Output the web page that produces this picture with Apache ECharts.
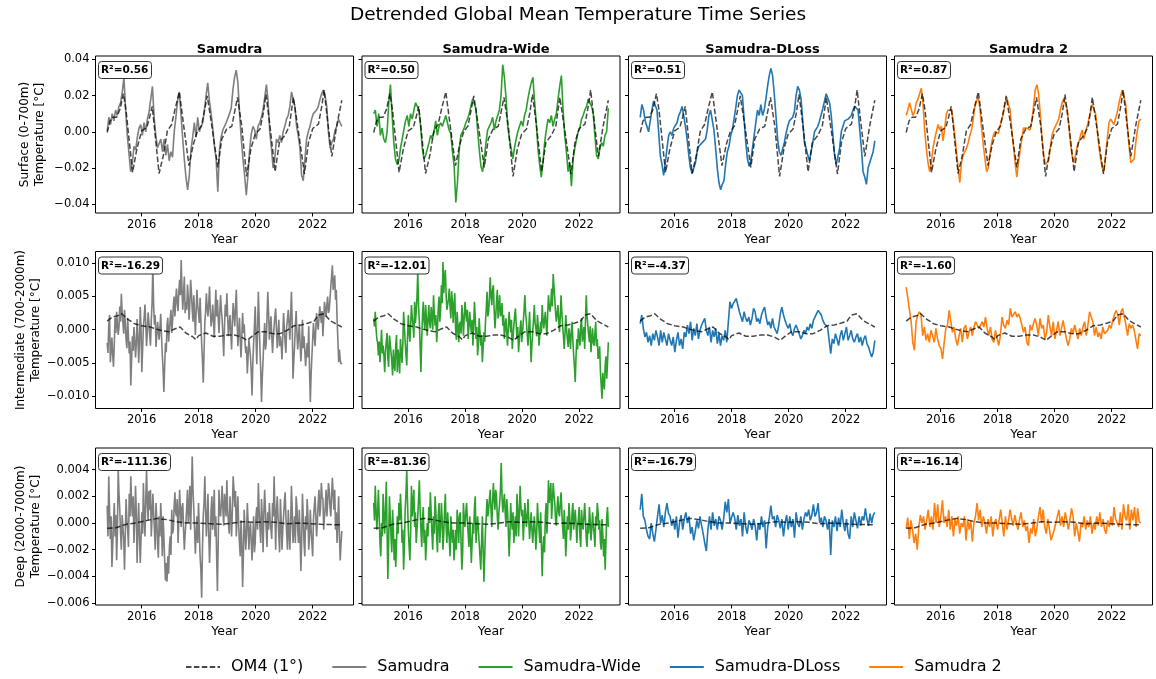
<!DOCTYPE html>
<html><head><meta charset="utf-8">
<script src="https://cdn.jsdelivr.net/npm/echarts@6/dist/echarts.min.js"></script>
<style>html,body{margin:0;padding:0;background:#fff}#c{width:1156px;height:679px}</style>
</head><body><div id="c"></div>
<script>
// ---------------- DATA ----------------
const X_START = 2014.79;   // first sample (decimal year)
const X_END = 2023.02;     // last sample (decimal year)
const xTickYears = [2016, 2018, 2020, 2022];
const colTitles = ['Samudra', 'Samudra-Wide', 'Samudra-DLoss', 'Samudra 2'];
const refName = 'OM4 (1°)';
const rowLabels = ['Surface (0-700m)\nTemperature [°C]', 'Intermediate (700-2000m)\nTemperature [°C]', 'Deep (2000-7000m)\nTemperature [°C]'];
const r2Surface = ['0.56', '0.50', '0.51', '0.87'];
const r2Intermediate = ['-16.29', '-12.01', '-4.37', '-1.60'];
const r2Deep = ['-111.36', '-81.36', '-16.79', '-16.14'];
const yTicksSurface = [-0.04, -0.02, 0, 0.02, 0.04];
const yTicksIntermediate = [-0.01, -0.005, 0, 0.005, 0.01];
const yTicksDeep = [-0.006, -0.004, -0.002, 0, 0.002, 0.004];

// all values below in milli-degC (1e-3 °C)
const om4SurfYears = [2014.79,2014.89,2015.0,2015.12,2015.24,2015.36,2015.45,2015.53,2015.68,2015.83,2016.0,2016.18,2016.29,2016.37,2016.45,2016.61,2016.76,2016.9,2017.05,2017.17,2017.32,2017.46,2017.66,2017.81,2017.95,2018.1,2018.22,2018.3,2018.46,2018.67,2018.81,2018.98,2019.16,2019.28,2019.36,2019.51,2019.68,2019.83,2019.98,2020.15,2020.27,2020.36,2020.5,2020.68,2020.83,2021.03,2021.18,2021.32,2021.5,2021.71,2021.85,2022.0,2022.2,2022.32,2022.4,2022.53,2022.67,2022.84,2023.02];
const om4SurfVals = [-0.4,6,8,8,12.5,21,12,0,-22.4,-9.5,0.5,2.4,8.8,14,2,-23,-13,0.5,4,12.5,22,5,-18.7,-7,0,3.3,13,19.8,3.3,-19.6,-4,1.5,3,12.5,19,3.3,-24.6,-9.5,-1.3,1.5,10.6,20.7,3.3,-22,-5.9,-1.8,3.3,19,0,-23.3,-5.9,1.8,4.2,14.3,23,5,-13.6,3.3,17.4];

const om4MidYears = [2014.79,2014.97,2015.15,2015.3,2015.5,2015.75,2016.0,2016.3,2016.5,2016.75,2016.95,2017.15,2017.35,2017.55,2017.8,2017.9,2018.0,2018.25,2018.5,2018.75,2019.0,2019.25,2019.5,2019.7,2019.9,2020.1,2020.35,2020.6,2020.85,2021.1,2021.35,2021.6,2021.85,2022.05,2022.2,2022.4,2022.6,2022.8,2023.02];
const om4MidVals = [1.3,1.9,2.1,2.4,1.6,0.9,0.6,0.4,0.1,-0.2,-0.3,0.1,0.4,-0.5,-1.1,-1.5,-0.9,-0.5,-1.0,-1.0,-0.8,-0.8,-1.1,-1.6,-0.9,-0.3,-0.3,-0.6,-0.6,-0.1,0.6,0.7,1.0,1.3,2.2,2.4,1.4,0.9,0.4];

const om4DeepYears = [2014.79,2015.1,2015.45,2015.8,2016.2,2016.55,2016.9,2017.2,2017.6,2018.0,2018.4,2018.8,2019.2,2019.55,2019.9,2020.3,2020.7,2021.1,2021.5,2021.9,2022.3,2022.7,2023.02];
const om4DeepVals = [-0.4,-0.35,-0.1,0.0,0.2,0.35,0.25,0.1,0.0,0.0,-0.05,-0.1,0.0,0.1,0.05,0.1,0.05,-0.05,0.0,-0.05,-0.1,-0.12,-0.12];

const surfSamudra = [0.5,8,4,10,6,12,9,14,16,22,30,12,-2,-12,-22,-17,-8,-10,-3,2,4,-2,5,0,7,11,10,25,8,-2,-9,-8,-4,-11,-4,-13,-7,-16,-11,-14,0,8,17,22,10,-3,-15,-25,-32,-24,-10,-3,5,-3,8,0,3,5,12,20,27,17,10,2,-8,-15,-33,-10,-3,1,3,5,6,10,13,23,30,34,27,10,-4,-15,-24,-35,-24,-10,-1,3,1,-4,3,5,8,12,19,26,17,0,-9,-20,-15,-4,-6,-2,-6,0,3,7,9,14,22,21,14,3,-2,-9,-24,-27,-15,-4,0,3,7,10,10,12,14,18,21,23,20,14,0,-9,-6,-4,1,3,7,5,3];
const surfWide = [10,12,3,10,-2,2,-4,-6,0,16,26,9,-6,-15,-18,-16,-9,-4,1,6,9,3,10,7,12,16,17,12,3,-9,-15,-13,-14,-6,-2,-4,0,6,-2,3,5,3,4,9,9,1,-1,-11,-19,-39,-28,-10,-2,0,2,5,7,10,14,18,19,13,1,-10,-19,-22,-15,-6,1,3,5,8,1,6,9,12,20,37,30,18,3,-4,-9,-15,-9,-4,0,3,6,3,9,12,18,23,27,30,17,5,-9,-18,-25,-17,-6,1,7,5,9,3,7,10,18,25,31,12,-2,-11,-22,-17,-30,-15,-9,-8,0,2,7,9,12,14,18,19,14,10,-2,-13,-15,-9,-6,-8,-2,0,13];
const surfDLoss = [8,15,12,6,3,0,6,12,17,18,12,0,-13,-18,-24,-17,-9,-2,0,-2,2,1,5,9,11,14,13,3,-4,-13,-20,-23,-22,-17,-11,-8,-7,-6,-6,-4,1,9,12,11,1,-9,-20,-28,-32,-29,-27,-18,-11,-8,-2,1,7,13,20,23,24,20,7,-6,-15,-19,-16,-9,-2,5,12,9,15,9,12,18,25,31,35,31,21,9,-4,-11,-13,-12,-6,-1,3,6,6,8,11,20,25,23,18,6,-6,-9,-13,-16,-11,-6,0,1,3,6,7,13,17,21,22,16,9,-2,-13,-18,-18,-9,0,3,6,6,7,8,9,12,14,15,12,1,-9,-22,-25,-29,-20,-17,-17,-11,-5];
const surfS2 = [9,12,16,15,9,11,16,18,21,24,16,1,-9,-17,-22,-17,-9,-4,0,4,1,3,-5,2,10,12,12,12,6,-2,-11,-20,-28,-17,-13,-11,-9,-6,-2,1,7,14,17,19,13,2,-7,-15,-22,-20,-12,-6,-2,0,1,-1,3,7,10,16,19,18,12,1,-8,-17,-25,-17,-10,-4,2,3,2,1,1,6,14,23,26,21,10,-3,-13,-18,-18,-16,-9,-2,1,3,5,7,12,16,18,17,13,4,-6,-13,-17,-13,-8,-6,-2,1,-4,0,3,7,11,15,16,10,1,-8,-15,-20,-22,-13,-4,5,7,6,4,5,11,16,20,23,22,15,3,-8,-17,-18,-15,-6,1,6,7];

const midSamudra = [-2.0,-3.5,0.6,2.2,-4.9,-3.0,-1.2,-3.8,-5.6,-2.4,1.8,-0.5,2.7,0.9,-0.8,0.4,3.5,1.2,5.4,2.6,
1.0,-0.6,3.0,1.0,-1.5,-2.8,1.8,-1.0,-3.6,-1.8,-8.4,-4.6,-1.0,-3.2,0.4,-1.6,-4.2,-2.2,1.6,-0.9,
-5.0,-2.0,3.4,0.2,-6.4,-3.0,0.5,1.9,3.8,0.8,-2.5,-0.4,2.6,1.2,-0.8,-2.4,1.4,4.0,9.7,3.6,
0.8,2.2,-2.6,-0.8,1.2,-0.2,-1.5,0.3,2.4,-1.0,-3.8,-6.0,-9.4,-5.5,-2.0,-3.4,0.6,1.8,-1.8,-0.2,
1.5,3.0,-0.5,1.2,3.5,5.0,2.0,4.4,6.2,4.0,2.8,5.8,7.5,5.2,10.5,6.0,3.0,5.5,8.0,2.5,
4.2,3.0,6.8,4.8,1.5,4.0,7.5,5.6,3.0,1.2,5.2,2.4,-0.8,2.8,6.0,3.6,2.5,1.0,4.8,1.5,
-2.2,-4.5,-8.0,-3.5,1.0,2.8,5.5,3.2,2.0,4.0,6.5,2.8,0.5,1.5,3.8,1.6,-1.2,2.6,6.0,2.0,
4.5,1.8,-0.5,2.4,5.2,3.0,1.5,-1.0,-4.0,0.5,3.8,2.0,5.5,2.0,-1.0,0.8,2.2,-0.6,-3.0,1.2,
4.0,2.2,0.5,3.4,6.0,1.5,-2.5,-0.4,1.8,-1.5,-4.2,-1.0,2.5,-0.5,0.8,-1.8,-3.5,-2.5,-6.6,-4.0,
-1.5,-2.8,-4.0,-6.5,-9.9,-5.0,-2.0,0.5,3.5,-1.0,-5.2,0.0,5.7,1.5,-3.0,-6.0,-10.9,-7.2,-4.5,-1.5,
1.0,-3.0,-2.0,1.8,5.7,2.5,-1.5,0.4,2.0,-0.8,-3.5,-1.2,0.5,2.0,3.2,0.0,-2.8,-0.4,1.5,-2.5,
-1.0,-2.2,-4.5,-1.0,2.5,0.2,-2.0,-3.5,0.5,1.5,3.0,0.8,-1.5,2.2,5.7,1.0,-7.4,-4.8,-2.5,0.6,
2.8,-0.5,-3.0,-1.0,0.8,-2.0,-4.8,-2.5,1.5,-2.8,-1.0,-3.2,-5.5,-3.5,-2.0,-4.2,0.5,-6.0,-10.9,-6.8,
-4.0,-1.5,1.0,-0.8,-2.5,0.2,2.5,1.0,0.0,1.8,3.5,2.2,1.0,2.8,-1.0,1.5,4.2,3.0,2.0,3.8,
5.0,2.5,3.0,4.6,6.5,8.0,9.7,6.0,7.0,8.2,4.5,6.0,1.5,-1.5,-4.9,-3.0,-4.6,-5.2,-5.0];
const midWide = [1.7,0.5,2.7,0.2,-1.4,-2.0,-3.9,-1.8,-4.9,-2.6,0.0,-3.6,-2.4,-4.0,-6.4,-3.2,-1.8,-0.5,-4.3,-5.6,
-0.9,-2.0,-3.4,-4.8,-6.9,-3.0,-5.4,-6.2,-2.4,-0.8,-6.4,-3.0,-4.3,-6.6,-1.4,-3.2,-5.0,-2.2,2.7,0.4,
-1.8,-3.8,-5.4,-1.0,2.2,-0.5,-1.8,0.8,3.7,1.8,0.6,-1.2,4.2,1.0,2.7,5.0,8.7,3.5,1.2,-2.5,
-6.4,-1.5,2.2,4.2,1.2,0.0,3.7,1.5,-0.9,1.6,3.7,1.0,0.2,3.4,2.2,0.0,5.2,2.4,0.6,2.2,
-1.9,0.2,3.2,5.0,1.2,3.0,6.7,4.0,10.2,5.5,7.7,9.0,5.2,3.0,2.7,4.6,6.2,3.5,1.7,5.8,
4.2,1.0,3.7,5.5,0.2,-1.5,2.7,0.4,-1.9,0.8,1.2,-0.6,3.7,2.0,-0.9,1.8,4.2,2.5,1.2,3.0,
-1.4,0.6,2.7,0.8,-0.4,1.5,-2.4,0.5,4.2,1.8,-1.4,0.4,-3.9,-2.0,1.7,-0.5,-2.4,-0.8,-4.9,-2.8,
-0.4,-1.8,1.2,3.2,5.7,2.0,2.7,4.8,7.9,5.2,3.7,6.0,6.7,3.0,0.2,2.0,4.2,6.0,1.7,3.4,
5.2,2.0,2.7,4.0,0.6,2.2,-1.4,0.6,1.7,-0.6,-2.4,0.4,2.7,1.0,-0.4,1.5,-2.9,-1.2,0.6,2.0,
3.2,0.8,-1.4,0.4,-3.4,-1.5,0.2,1.4,-1.9,-0.4,1.2,3.0,5.2,2.4,1.2,-0.8,-2.4,0.2,2.7,-1.5,
-4.9,-2.2,-0.4,1.5,3.7,1.0,0.2,-1.0,2.2,0.5,-2.4,-0.8,1.2,-0.5,3.7,1.8,0.2,1.4,2.7,0.8,
-0.9,2.4,5.2,3.5,2.7,4.0,6.2,3.5,8.4,6.5,4.7,2.6,1.2,2.5,3.7,1.5,-0.4,2.0,5.2,2.6,
0.6,-1.0,-2.9,-0.5,2.2,0.0,-1.4,-2.6,0.2,-1.0,-2.9,-0.2,1.2,-1.6,-3.9,-5.6,-7.9,-4.0,-1.4,-3.0,
0.2,-1.2,-2.4,0.6,1.7,-1.8,-0.9,0.4,-2.9,1.5,5.2,2.0,0.6,-0.8,-1.9,0.5,-3.4,-1.5,0.2,-2.0,
-2.4,-0.6,1.2,-2.5,-1.4,-4.4,-3.9,-2.5,-6.4,-8.4,-10.4,-6.5,-8.0,-9.0,-5.5,-4.0,-7.4,-5.0,-1.9];
const midDLoss = [0.9,2.2,0.2,-1.1,-0.4,-1.9,-0.9,-2.4,-0.6,-1.6,-0.1,-1.1,-2.4,-0.1,-1.9,-0.4,-1.4,-2.4,-0.6,-1.6,-2.4,-1.1,-3.4,-1.6,-0.4,-2.4,-1.4,-2.9,-0.4,-1.1,0.7,-0.6,1.2,-1.6,0.2,-0.9,0.9,-1.4,-0.1,0.7,1.2,1.7,-0.1,-0.9,0.4,-1.9,-0.1,-1.1,0.2,-2.1,-0.6,-2.4,-0.9,-1.6,-0.1,-1.9,1.2,4.2,3.2,3.9,3.7,4.7,4.4,2.7,1.9,1.2,2.7,1.7,1.2,1.9,0.7,1.7,3.2,2.7,1.2,1.7,0.9,2.2,2.9,3.4,1.9,0.7,1.2,0.2,1.7,0.4,-0.1,-0.6,0.7,2.4,3.4,2.2,1.4,0.7,0.2,0.9,-0.4,-0.9,0.2,0.7,0.4,-0.6,-1.4,-0.9,-0.1,-0.6,0.4,-0.1,0.9,0.2,1.4,1.9,2.2,2.9,2.7,2.2,1.4,0.9,0.7,0.4,0.2,-3.6,-1.4,-2.1,-0.6,-1.4,-2.4,-0.9,-0.1,-1.6,-0.6,0.4,-1.6,-0.9,-0.1,-1.4,-1.9,-1.1,-0.6,-1.9,-1.1,-2.4,-1.4,-0.9,-2.1,-2.6,-3.4,-4.1,-3.4,-1.6];
const midS2 = [6.4,4.7,4.4,1.2,-1.9,-3.1,1.2,2.2,2.7,2.2,-0.9,0.4,-1.6,-0.6,-1.9,-0.1,-0.9,-1.9,0.2,-1.4,-2.4,-2.8,-4.4,-1.9,0.2,0.7,2.9,1.2,-0.4,0.4,-1.4,-2.4,-0.9,0.2,-1.9,0.2,0.7,-1.4,-0.4,0.4,-0.9,0.4,1.2,1.4,0.2,0.7,1.2,0.4,1.9,0.2,-0.9,0.4,-1.4,-1.9,-0.1,0.2,-2.4,-0.9,1.9,0.7,0.2,1.4,0.7,3.2,1.9,1.7,2.7,1.9,2.4,1.7,0.7,-0.4,0.4,-1.9,-2.4,0.7,-0.1,0.9,1.7,0.7,-0.9,1.7,0.2,0.7,-1.4,-0.4,2.2,0.4,-0.9,1.2,-1.4,-0.1,1.2,-0.9,0.2,1.4,-0.1,-1.4,-2.4,-1.4,0.2,-0.6,0.7,-0.4,-1.4,0.2,-0.9,0.4,1.2,-0.9,0.7,2.7,1.9,1.2,-0.9,0.4,-1.1,-0.4,-1.4,0.4,-0.6,-0.9,-0.1,0.7,0.2,1.4,2.2,2.9,2.4,0.7,2.7,3.2,1.9,0.7,-0.9,0.9,0.2,0.7,-0.1,0.2,-2.9,-0.6,-0.9];

const deepSamudra = [1.3,-1.0,3.5,0.8,-1.2,0.5,-3.3,-1.8,0.0,1.5,-1.0,0.6,-2.8,-0.5,4.0,2.2,1.0,-0.8,-2.0,0.6,
0.5,-1.2,-3.5,-0.8,1.8,0.2,-0.5,-1.8,2.2,0.5,3.5,1.5,0.5,2.0,-1.5,0.3,2.8,0.8,-3.0,-0.5,
1.5,-1.0,-3.0,-1.2,0.8,-0.8,3.0,0.5,-1.0,1.8,4.0,1.5,0.2,2.4,1.0,2.5,-1.0,0.5,2.2,0.8,
-0.5,-2.0,1.5,0.2,-1.5,-2.6,0.5,-1.0,1.5,0.0,-2.5,0.5,-1.0,-2.8,-4.3,-3.0,-4.4,-2.5,-3.8,-1.8,
-1.0,-2.4,1.0,-0.8,-0.5,1.2,2.3,0.8,0.5,1.8,-1.5,0.2,2.5,1.0,-0.3,1.2,1.5,-0.5,-2.0,-0.8,
0.0,1.2,2.5,0.0,1.0,2.8,-0.5,2.0,5.0,2.5,1.0,-0.5,-2.3,-0.8,0.5,-1.5,1.5,-0.5,-2.5,-3.5,
-5.6,-2.0,0.5,1.5,3.5,1.0,-1.0,0.5,2.2,-0.8,-3.0,-1.2,1.0,2.0,-0.5,0.8,2.5,-1.0,0.5,-2.5,
-5.1,-1.5,2.5,0.8,0.5,1.5,2.8,1.0,-0.2,2.2,1.5,0.5,3.2,1.0,0.0,-0.8,2.0,0.5,-1.0,1.0,
3.5,2.5,1.2,2.4,-1.0,0.5,2.0,-0.2,-1.5,-2.5,0.2,-1.5,-4.8,-2.5,1.0,-0.5,-2.0,-0.8,1.5,0.0,
-2.0,-0.5,0.0,-1.5,-2.8,-1.0,0.5,-2.2,-1.5,0.5,1.2,-0.5,3.0,1.0,-0.3,-1.5,1.8,0.3,-2.2,0.8,
2.5,1.0,-0.5,-1.8,0.8,-0.5,1.5,0.2,-0.5,-1.2,1.5,0.5,3.5,1.0,-2.0,0.8,2.0,0.5,-1.0,-2.2,
1.8,0.2,-2.0,-0.5,0.5,1.5,2.3,0.5,-0.8,-2.0,1.0,-0.5,-2.0,-0.2,2.8,1.0,-1.5,-0.5,0.5,-1.5,
2.0,1.2,-0.5,-1.5,1.0,-1.0,-3.6,-1.5,2.2,0.5,-1.5,-2.5,0.5,-0.5,1.8,0.5,-2.0,-1.0,1.0,-0.5,
-1.5,-2.5,0.3,1.2,2.0,0.5,-1.0,0.2,1.5,2.5,0.5,1.2,3.0,2.0,1.8,-0.5,0.5,1.2,2.5,0.5,
1.5,3.0,2.5,1.2,0.5,2.0,3.4,2.2,1.0,2.5,-0.5,0.8,-1.5,0.2,2.0,-1.0,-2.8,-1.5,-0.6];
const deepWide = [1.5,0.2,2.8,1.0,-0.5,0.8,2.5,0.5,-1.5,-2.5,0.0,-1.0,2.2,0.5,-0.8,1.0,3.1,-0.5,-4.2,-1.5,
2.0,0.5,-1.0,-2.2,1.0,-0.5,-2.8,-1.2,-3.3,-1.5,0.5,-0.8,1.5,0.2,2.2,0.8,-1.5,-0.5,-3.5,-1.8,
1.0,2.2,4.0,1.5,-0.5,-1.8,-2.8,-0.5,2.8,0.5,1.5,2.5,-0.3,0.8,-1.5,-0.5,0.5,1.8,3.2,1.0,
-0.5,-1.8,0.3,1.2,-1.5,-0.5,-2.8,-1.5,0.0,-1.0,1.2,0.0,2.3,0.8,-0.8,-2.0,0.5,-0.8,2.0,0.8,
-1.0,-2.2,0.5,1.5,-1.5,-0.3,1.5,0.2,-2.0,-0.8,1.0,2.2,-0.3,-1.5,0.8,-0.5,-1.2,-2.5,0.5,-0.5,
-1.5,-0.5,-2.8,-1.8,-0.5,-2.0,1.0,0.2,-1.5,0.5,0.8,-1.5,-3.5,-2.2,1.5,0.2,-0.3,0.8,1.5,0.2,
-0.8,-1.8,0.5,-1.0,-3.0,-1.5,0.0,-0.8,1.2,2.0,-1.5,-0.3,0.5,-0.5,-1.5,-2.5,-3.5,-1.5,0.5,-2.0,
-4.4,-2.5,-0.5,0.5,1.8,0.5,1.0,1.8,2.5,1.0,-0.3,1.5,3.0,1.8,1.0,2.5,2.0,0.5,-0.5,0.8,
1.5,2.5,4.5,2.0,0.8,1.5,2.2,0.8,-0.3,1.8,1.0,-0.5,-2.5,-1.0,1.5,0.2,-0.5,0.8,-1.5,-0.5,
0.5,-1.0,2.2,1.0,-1.0,0.8,2.8,1.2,0.5,1.0,-1.3,0.0,1.5,0.5,-0.3,0.5,1.8,0.2,-1.2,-0.2,
0.8,-0.5,-1.5,-0.5,0.5,-0.5,-2.0,-0.8,1.5,0.2,-0.5,-1.5,0.8,-1.5,-4.0,-2.0,-1.0,-2.2,0.5,1.5,
-0.8,0.8,3.2,1.5,2.2,3.0,0.3,1.5,3.0,2.2,1.5,0.2,-0.2,1.2,2.0,0.8,0.5,1.5,2.3,0.8,
-0.3,-1.2,1.0,-0.5,-2.5,-1.0,0.5,-0.5,1.5,0.5,-1.3,-0.5,0.8,1.5,-0.5,0.2,1.0,0.0,-1.5,-0.3,
0.3,1.2,-1.0,-1.8,1.0,0.0,-0.5,0.5,1.5,0.2,-1.2,-1.8,0.0,-0.8,1.2,0.2,-1.3,-0.5,0.8,-0.2,
-0.8,-1.8,0.5,-0.2,1.5,0.8,-0.5,0.2,-1.5,-2.0,0.3,-0.8,-2.5,-1.2,-3.5,-1.5,0.5,1.2,-0.3];
const deepDLoss = [1.0,2.2,0.5,0.2,-0.5,-1.0,-1.2,0.0,-0.8,-1.4,-0.5,0.5,1.4,0.0,0.6,-0.3,0.8,1.5,0.7,0.5,-0.2,0.3,-0.5,0.5,-1.1,0.0,0.6,-0.5,0.3,0.8,0.0,0.5,-0.8,-0.3,-1.3,-0.6,0.2,-0.4,0.5,-0.2,-0.8,-1.5,-2.1,-0.5,0.5,-0.5,0.8,-0.2,0.3,-0.5,0.5,0.2,-0.5,0.3,1.6,0.8,1.8,0.0,0.4,0.8,0.4,-0.5,0.6,-0.2,0.3,-1.0,0.8,-0.3,-0.8,0.2,0.0,-0.5,0.3,-0.2,-1.3,0.0,-0.5,0.5,-0.3,0.2,-1.9,-0.3,0.4,1.3,0.3,0.5,-0.3,0.6,0.2,-0.4,0.3,-1.0,0.0,0.6,-0.5,0.5,-0.3,0.3,-1.1,0.8,0.0,-0.3,0.5,-0.5,0.3,0.8,0.5,1.0,0.2,0.6,1.4,0.5,0.8,1.5,0.0,0.4,-0.3,0.5,0.2,-0.5,0.3,-2.4,0.2,-0.3,0.5,-0.6,0.4,-0.3,1.0,0.0,-0.6,0.3,-0.8,-1.2,0.5,-0.3,0.8,0.2,-0.4,0.5,-0.2,0.5,0.2,1.1,0.3,-0.2,0.7,0.0,0.6,0.8];
const deepS2 = [-0.4,0.4,-1.2,0.2,-0.5,-1.5,-0.8,-2.0,-0.3,0.6,0.0,0.5,-0.5,0.2,1.0,-0.3,0.5,-0.5,1.5,0.0,1.4,-0.3,0.5,1.7,0.0,0.5,-0.3,1.0,-0.5,0.5,-1.0,0.3,-0.2,0.5,-0.8,0.0,-0.3,0.5,-1.3,0.3,-0.5,0.2,-1.4,0.0,0.5,1.5,0.2,1.0,-0.3,0.5,0.0,-0.8,0.3,-0.3,0.5,-1.0,0.0,0.3,-0.5,0.2,1.0,0.0,-1.0,0.5,-0.5,0.2,1.0,0.3,-0.2,0.6,0.0,-0.5,0.3,0.8,-0.3,0.2,-0.6,-0.2,-1.5,-0.4,-0.8,0.3,-1.0,-0.4,0.5,1.2,0.0,1.0,-0.3,-0.8,0.3,-0.5,-1.3,-1.4,-0.5,0.0,0.5,1.0,-0.2,0.5,-0.3,0.8,0.2,-0.5,0.3,1.1,0.5,-1.0,0.0,-0.6,-1.4,0.0,-0.3,0.5,-0.5,0.2,-0.3,0.5,-0.8,0.0,-0.5,0.5,-0.2,0.8,-0.3,0.3,-0.5,-0.8,0.2,-0.3,0.5,-0.2,1.2,0.3,0.0,-0.3,0.8,-0.5,1.4,0.5,0.2,1.4,-0.5,1.0,0.2,1.2,-0.3,1.1,0.1,0.0];

// ---------------- STYLE / LAYOUT ----------------
const MILLI = 1e-3;
const FONT = 'DejaVu Sans';
const modelColors = ['#7f7f7f', '#2ca02c', '#1f77b4', '#ff7f0e'];
const gridLeft = [95.5, 362, 628.5, 894.5];
const gridTop = [56, 251.5, 448];
const gridW = 258, gridH = 157;
const X_MIN = 2014.38, X_MAX = 2023.43;

const rows = [
  { om4T: om4SurfYears, om4V: om4SurfVals, models: [surfSamudra, surfWide, surfDLoss, surfS2], yMin: -0.0448, yMax: 0.0418, ticks: yTicksSurface, dec: 2, r2: r2Surface },
  { om4T: om4MidYears, om4V: om4MidVals, models: [midSamudra, midWide, midDLoss, midS2], yMin: -0.01188, yMax: 0.01178, ticks: yTicksIntermediate, dec: 3, r2: r2Intermediate },
  { om4T: om4DeepYears, om4V: om4DeepVals, models: [deepSamudra, deepWide, deepDLoss, deepS2], yMin: -0.00615, yMax: 0.00563, ticks: yTicksDeep, dec: 3, r2: r2Deep }
];

function evenSeries(vals) {
  const n = vals.length;
  return vals.map((v, i) => [X_START + i * (X_END - X_START) / (n - 1), v * MILLI]);
}
function pairSeries(ts, vs) { return ts.map((t, i) => [t, vs[i] * MILLI]); }

const grids = [], xAxes = [], yAxes = [], series = [];
const titles = [{
  text: 'Detrended Global Mean Temperature Time Series', left: 'center', top: 1,
  textStyle: { fontFamily: FONT, fontSize: 18.5, fontWeight: 'normal', color: '#000' }
}];
colTitles.forEach((t, c) => titles.push({
  text: t, left: gridLeft[c] + gridW / 2, textAlign: 'center', top: 38,
  textStyle: { fontFamily: FONT, fontSize: 13, fontWeight: 'bold', color: '#000' }
}));

rows.forEach((row, r) => {
  for (let c = 0; c < 4; c++) {
    const idx = r * 4 + c;
    grids.push({ left: gridLeft[c], top: gridTop[r], width: gridW, height: gridH, show: true,
      borderColor: '#000', borderWidth: 1, backgroundColor: 'transparent', containLabel: false });
    xAxes.push({
      type: 'value', gridIndex: idx, min: X_MIN, max: X_MAX,
      name: 'Year', nameLocation: 'middle', nameGap: 20,
      nameTextStyle: { fontFamily: FONT, fontSize: 12.5, color: '#000' },
      axisLine: { show: false, onZero: false },
      axisTick: { show: true, customValues: xTickYears, length: 3.5, inside: false, lineStyle: { color: '#000', width: 1 } },
      axisLabel: { show: true, customValues: xTickYears, margin: 6, fontFamily: FONT, fontSize: 11.5, color: '#000', formatter: v => String(Math.round(v)) },
      splitLine: { show: false }
    });
    yAxes.push({
      type: 'value', gridIndex: idx, min: row.yMin, max: row.yMax,
      name: c === 0 ? rowLabels[r] : '', nameLocation: 'middle', nameGap: 48,
      nameTextStyle: { fontFamily: FONT, fontSize: 12, color: '#000', lineHeight: 15 },
      axisLine: { show: false, onZero: false },
      axisTick: { show: true, customValues: row.ticks, length: 3.5, inside: false, lineStyle: { color: '#000', width: 1 } },
      axisLabel: { show: c === 0, customValues: row.ticks, margin: 6, fontFamily: FONT, fontSize: 11.5, color: '#000',
        formatter: v => v.toFixed(row.dec).replace('-', '\u2212') },
      splitLine: { show: false }
    });
    series.push({
      name: colTitles[c], type: 'line', xAxisIndex: idx, yAxisIndex: idx,
      data: evenSeries(row.models[c]), symbol: 'none', showSymbol: false, z: 2,
      lineStyle: { color: modelColors[c], width: 1.6 }, itemStyle: { color: modelColors[c] }
    });
    series.push({
      name: refName, type: 'line', xAxisIndex: idx, yAxisIndex: idx,
      data: pairSeries(row.om4T, row.om4V), symbol: 'none', showSymbol: false, z: 3,
      lineStyle: { color: 'rgba(0,0,0,0.72)', width: 1.5, type: [5.5, 2.4] }, itemStyle: { color: 'rgba(0,0,0,0.72)' }
    });
    titles.push({
      text: 'R²=' + row.r2[c], left: gridLeft[c] + 2.5, top: gridTop[r] + 5,
      backgroundColor: '#fff', borderColor: '#333', borderWidth: 1, borderRadius: 3, padding: [4, 3, 3, 3],
      textStyle: { fontFamily: FONT, fontSize: 10.5, fontWeight: 'bold', color: '#000' }
    });
  }
});

const chart = echarts.init(document.getElementById('c'), null, { renderer: 'canvas' });
chart.setOption({
  animation: false,
  backgroundColor: '#fff',
  textStyle: { fontFamily: FONT },
  title: titles,
  grid: grids,
  xAxis: xAxes,
  yAxis: yAxes,
  legend: {
    data: [refName, 'Samudra', 'Samudra-Wide', 'Samudra-DLoss', 'Samudra 2'],
    left: 180, top: 654, itemWidth: 34, itemHeight: 12, itemGap: 28,
    itemStyle: { opacity: 0, borderWidth: 0 },
    textStyle: { fontFamily: FONT, fontSize: 16, color: '#000', padding: [0, 0, 0, 6] }
  },
  series: series
});
</script>
</body></html>
